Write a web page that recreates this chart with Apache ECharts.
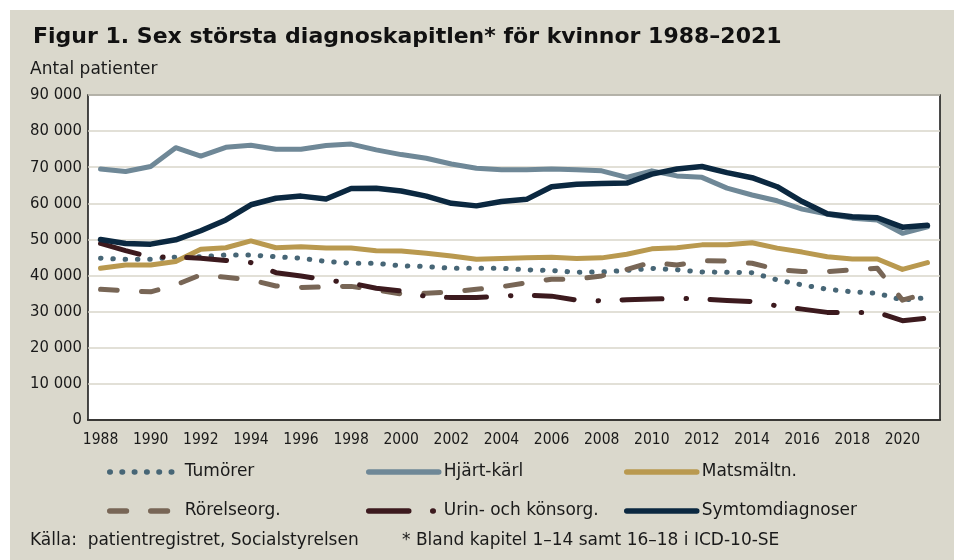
<!DOCTYPE html>
<html><head><meta charset="utf-8">
<script src="https://cdn.jsdelivr.net/npm/echarts@6.0.0/dist/echarts.min.js"></script>
<style>
html,body{margin:0;padding:0;background:#fff;}
#bg{position:absolute;left:10px;top:10px;width:944px;height:550px;background:#dad8cc;}
#chart{position:absolute;left:0;top:0;width:954px;height:560px;}
</style></head><body>
<div id="bg"></div><div id="chart"></div>
<script>
const years = ['1988','1989','1990','1991','1992','1993','1994','1995','1996','1997','1998','1999','2000','2001','2002','2003','2004','2005','2006','2007','2008','2009','2010','2011','2012','2013','2014','2015','2016','2017','2018','2019','2020','2021'];
const tumorer = [44800,44500,44500,45100,45200,45700,45700,45200,44800,43900,43400,43400,42700,42500,42000,42000,42000,41600,41400,40900,41000,41400,42000,41600,41000,40900,40800,38800,37400,36200,35500,35100,33200,33900];
const hjartKarl = [69500,68800,70200,75400,73100,75500,76100,75000,75000,76000,76400,74800,73500,72500,70900,69700,69300,69300,69500,69300,69000,67200,69000,67600,67200,64200,62300,60700,58400,57000,55900,55400,51700,53500];
const matsmaltn = [42000,42900,42900,43900,47300,47700,49600,47700,48000,47600,47600,46900,46800,46200,45400,44500,44700,44900,45100,44700,44900,45900,47400,47700,48500,48500,49100,47600,46500,45200,44600,44600,41700,43600];
const rorelseorg = [36200,35800,35500,37400,40200,39500,38800,37100,36700,36900,37000,36000,34900,35100,35500,36200,36900,38000,39000,39000,39900,41700,43700,42900,44100,44000,43400,41700,41100,41100,41600,42000,33200,35100];
const urinKonsorg = [48900,46900,45100,45200,44800,44200,43600,40800,39900,38800,37900,36500,35700,34200,33900,33900,34300,34600,34300,33200,33000,33300,33500,33700,33500,33100,32800,31600,30700,29800,29800,29800,27500,28200];
const symtom = [50000,48900,48700,49900,52400,55400,59600,61400,62000,61200,64100,64200,63400,62000,60000,59300,60500,61100,64600,65300,65500,65600,68100,69500,70200,68500,67100,64600,60500,57100,56300,56000,53400,53900];
const seriesNames = ['Tumörer','Hjärt-kärl','Matsmältn.','Rörelseorg.','Urin- och könsorg.','Symtomdiagnoser'];
const yTicks = [0,10000,20000,30000,40000,50000,60000,70000,80000,90000];

const chart = echarts.init(document.getElementById('chart'), null, {renderer:'canvas'});
const txtColor = '#1a1a1a';
function mkSeries(name, data, color, width, type) {
  return {
    name, type:'line', data, symbol:'none', smooth:false, silent:true,
    itemStyle:{color},
    lineStyle:{color, width, type, cap:'round', join:'round'},
    emphasis:{disabled:true}
  };
}
const legendBase = {
  orient:'horizontal', padding:0, itemWidth:70, itemHeight:14, selectedMode:false,
  textStyle:{fontFamily:'DejaVu Sans', fontSize:17, color:txtColor, lineHeight:18},
  lineStyle:{width:5.5},
  itemStyle:{opacity:0, color:'transparent', borderWidth:0}
};
const legendPos = [[107,463],[366,463],[624,463],[107,502],[366,502],[624,502]];
chart.setOption({
  animation:false,
  backgroundColor:'transparent',
  grid:{left:88, right:14, top:95, bottom:140, show:true, backgroundColor:'#ffffff', borderColor:'#111111', borderWidth:1.5},
  xAxis:{
    type:'category', data:years, boundaryGap:true,
    axisLine:{show:true, lineStyle:{color:'#111', width:1.5}},
    axisTick:{show:false},
    axisLabel:{interval:1, margin:12, fontFamily:'DejaVu Sans Condensed', fontSize:15.5, color:txtColor}
  },
  yAxis:{
    type:'value', min:yTicks[0], max:yTicks[yTicks.length-1], interval:10000,
    axisLine:{show:false}, axisTick:{show:false},
    splitLine:{show:true, lineStyle:{color:'#d8d6ca', width:1.5}},
    axisLabel:{margin:6, fontFamily:'DejaVu Sans Condensed', fontSize:16.5, color:txtColor,
      formatter:v => v === 0 ? '0' : (Math.round(v/1000) + ' 000')}
  },
  legend: seriesNames.map((n,i) => Object.assign({}, legendBase, {data:[n], left:legendPos[i][0], top:legendPos[i][1]})),
  graphic:[
    {type:'text', x:33, y:37, style:{text:'Figur 1. Sex största diagnoskapitlen* för kvinnor 1988–2021', font:'bold 22px "DejaVu Sans"', fill:'#111', verticalAlign:'middle'}},
    {type:'text', x:30, y:70, style:{text:'Antal patienter', font:'17px "DejaVu Sans"', fill:txtColor, verticalAlign:'middle'}},
    {type:'text', x:30, y:541, style:{text:'Källa:  patientregistret, Socialstyrelsen', font:'17px "DejaVu Sans"', fill:txtColor, verticalAlign:'middle'}},
    {type:'text', x:402, y:541, style:{text:'* Bland kapitel 1–14 samt 16–18 i ICD-10-SE', font:'17px "DejaVu Sans"', fill:txtColor, verticalAlign:'middle'}}
  ],
  series:[
    mkSeries(seriesNames[0], tumorer, '#476676', 5, [0.5, 11.8]),
    mkSeries(seriesNames[1], hjartKarl, '#6f8897', 5, 'solid'),
    mkSeries(seriesNames[2], matsmaltn, '#b9994f', 5, 'solid'),
    mkSeries(seriesNames[3], rorelseorg, '#786656', 5, [16.7, 24.3]),
    mkSeries(seriesNames[4], urinKonsorg, '#3c1a1e', 5, [40, 24, 0.5, 23.5]),
    mkSeries(seriesNames[5], symtom, '#0b2840', 5.5, 'solid')
  ]
});
</script></body></html>
